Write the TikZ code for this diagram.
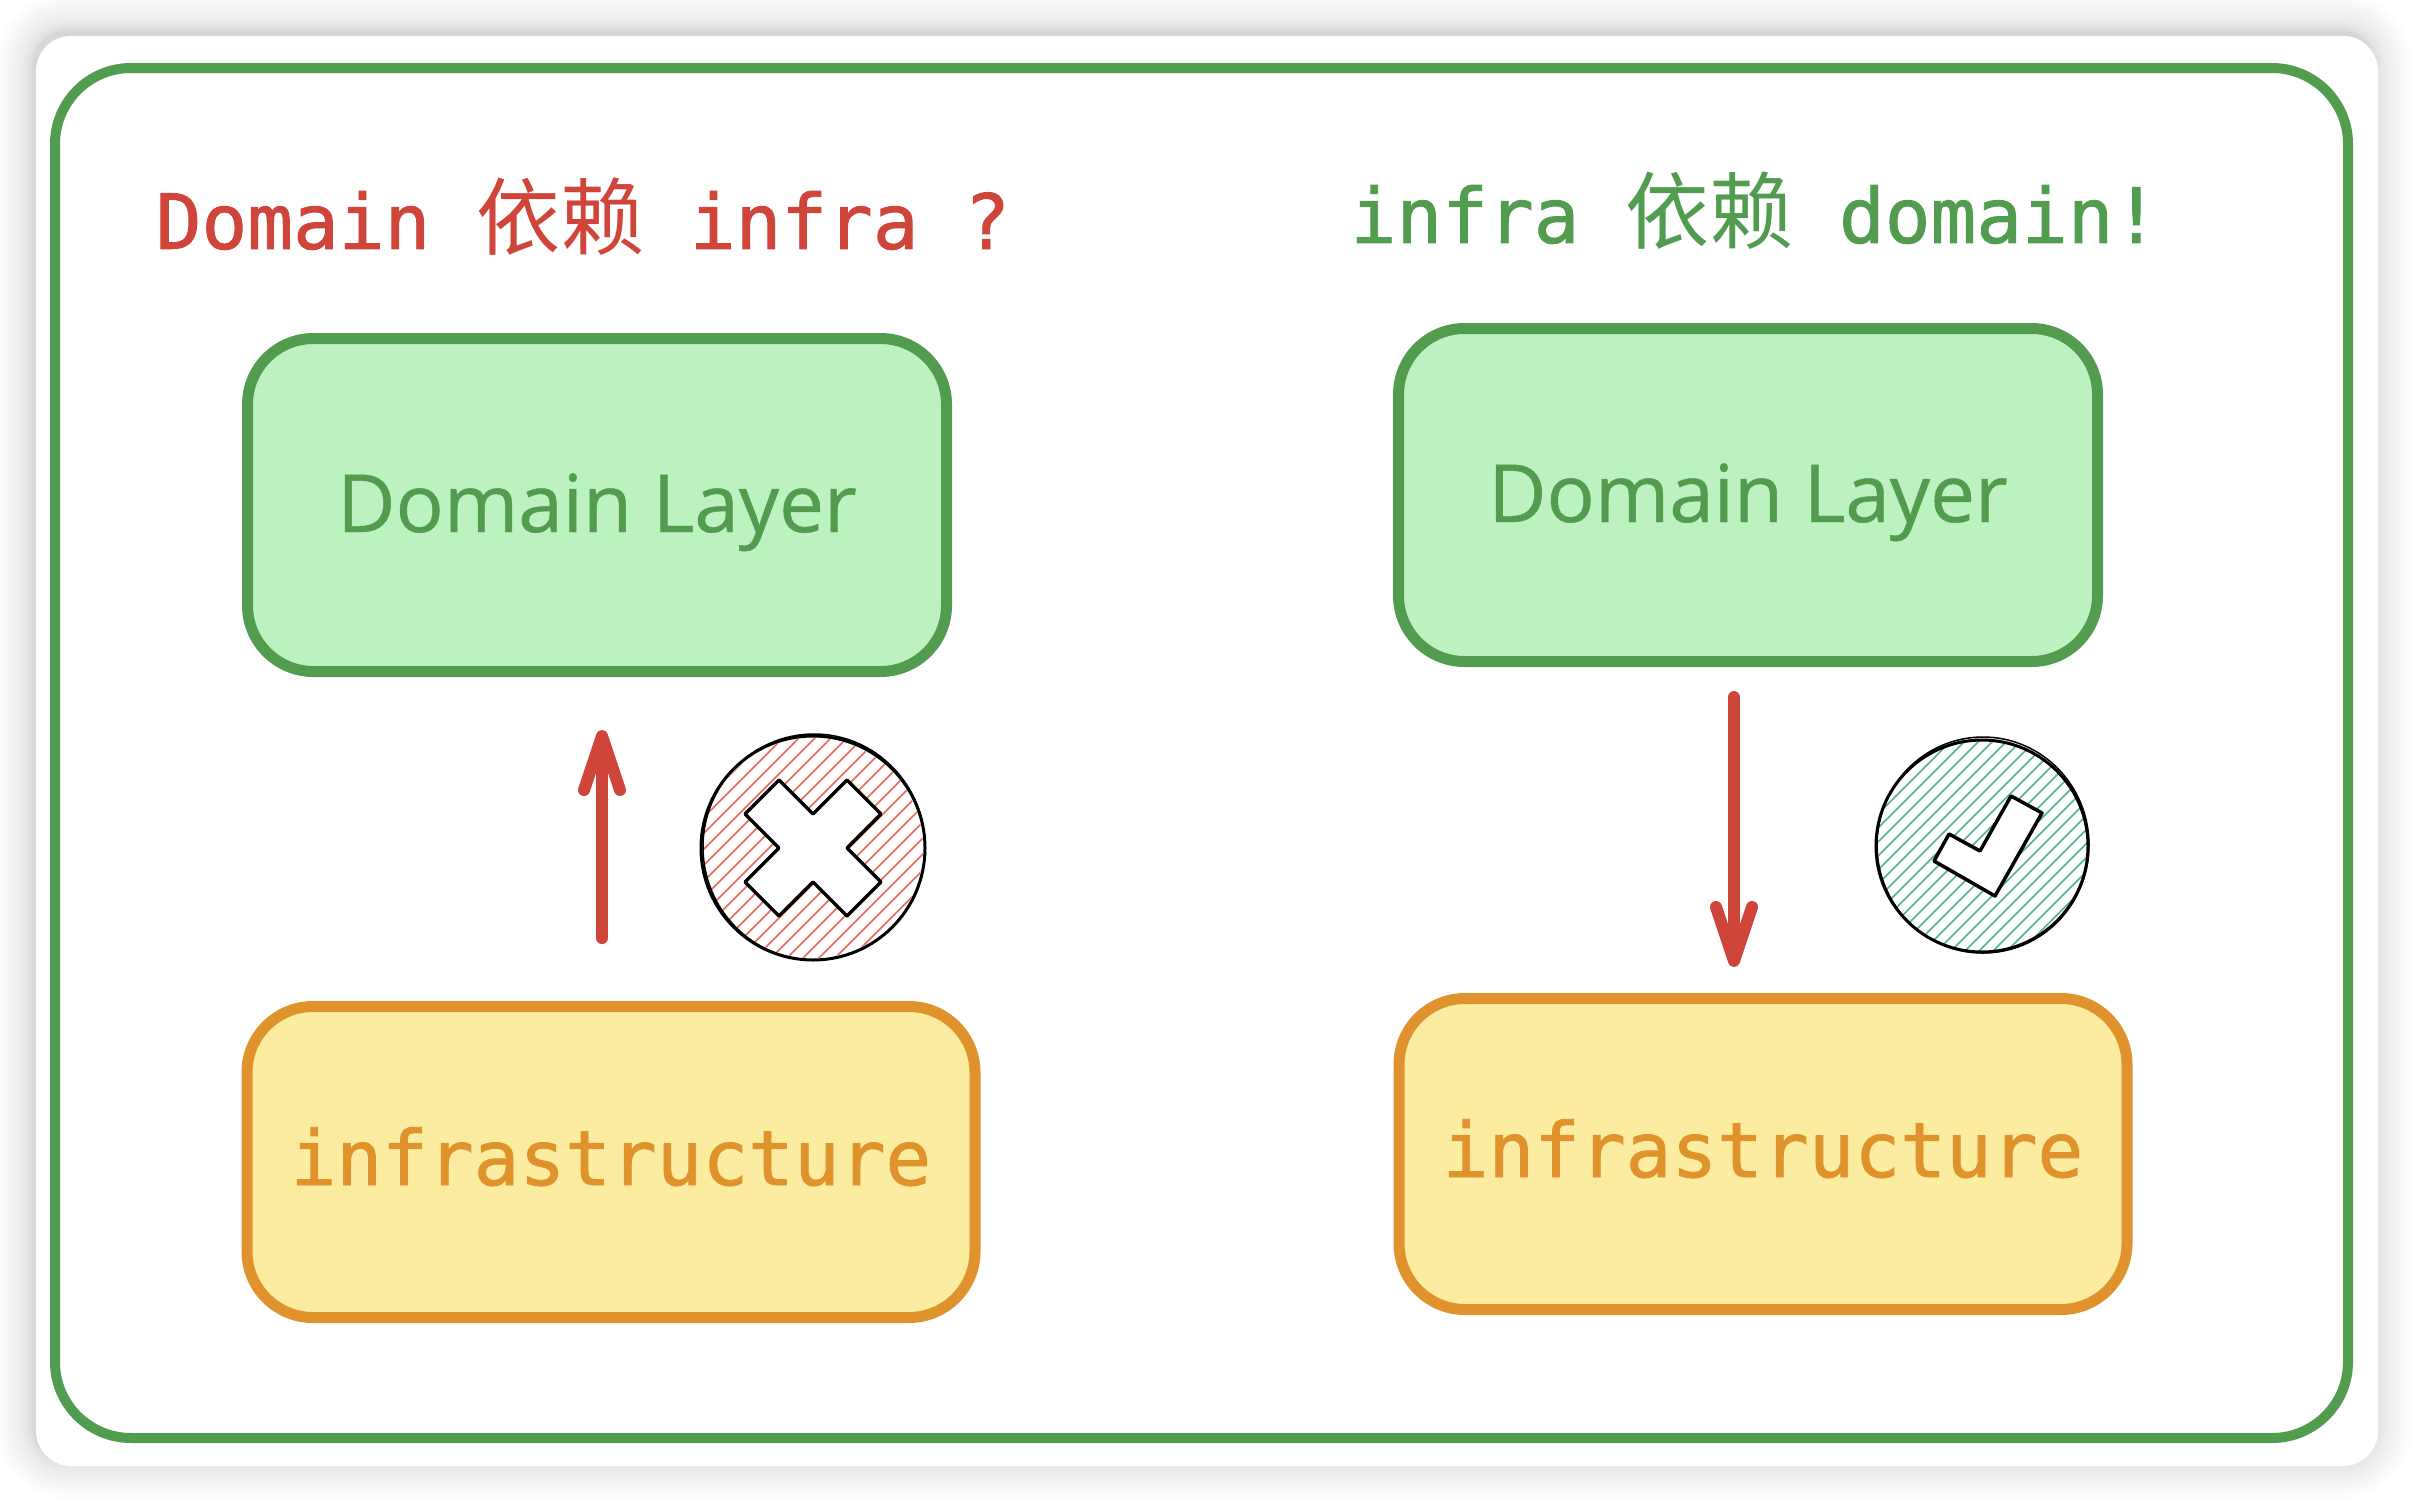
\documentclass[tikz,border=0pt]{standalone}
\usepackage{fontspec}
\setmainfont{Open Sans}[FakeBold=0.6]
\newfontfamily\codefont{DejaVu Sans Mono}[FakeBold=1.2]
\newfontfamily\cjk{Noto Sans CJK SC}
\usetikzlibrary{arrows.meta}
\definecolor{sketchgreen}{HTML}{529C50}
\definecolor{sketchred}{HTML}{CF453A}
\definecolor{sketchorange}{HTML}{E0922D}
\definecolor{domainfill}{HTML}{BCF2BF}
\definecolor{infrafill}{HTML}{FBECA0}
\definecolor{hatchred}{HTML}{E8685A}
\definecolor{hatchgreen}{HTML}{4FB38C}
\newcommand{\cjkword}[1]{{\cjk\fontsize{84}{90}\selectfont #1}}
\newcommand{\boxlabel}[2]{\raisebox{-#1pt}[0pt][0pt]{#2}}
\tikzset{
  layerbox/.style={draw,line width=11pt,rounded corners=66pt,inner sep=0pt},
  domainbox/.style={layerbox,draw=sketchgreen,fill=domainfill,text=sketchgreen,
    minimum width=699pt,minimum height=333pt,
    font=\fontsize{80}{90}\selectfont},
  infrabox/.style={layerbox,draw=sketchorange,fill=infrafill,text=sketchorange,
    minimum width=728pt,minimum height=311pt,
    font=\codefont\fontsize{76}{90}\selectfont},
  titletext/.style={font=\codefont\fontsize{76}{90}\selectfont,inner sep=0pt},
  markcircle/.style={draw=black,line width=3pt,circle,inner sep=0pt},
  markshape/.style={draw=black,fill=white,line width=3.5pt,line join=round},
  depends/.style={draw=sketchred,line width=12pt,line cap=round,
    -{Straight Barb[length=54pt,width=36pt,round]}},
}
\begin{document}
\begin{tikzpicture}[x=1pt,y=-1pt]
  \useasboundingbox (0,0) rectangle (2414,1502);
  % soft shadow of the card
  \foreach \i in {1,2,...,20}{
    \pgfmathsetmacro{\s}{38*(\i/20)^2}
    \fill[black,opacity=0.008,rounded corners=34pt+\s pt] (33-\s,31-\s) rectangle (2375+\s,1461+\s);
  }
  \node[fill=white,rounded corners=35pt,minimum width=2342pt,minimum height=1430pt,inner sep=0pt] (card) at (1207,751) {};
  \node[draw=sketchgreen,line width=10pt,rounded corners=76pt,minimum width=2293pt,minimum height=1370pt,inner sep=0pt] (frame) at (1201.5,753) {};
  
  \node[titletext,text=sketchred] (titleL) at (583,217) {Domain \cjkword{依赖} infra ?};
  \node[titletext,text=sketchgreen] (titleR) at (1755,211) {infra \cjkword{依赖} domain!};
  
  \node[domainbox] (domainL) at (597,505) {\boxlabel{27}{Domain Layer}};
  \node[domainbox] (domainR) at (1748,495) {\boxlabel{27}{Domain Layer}};
  \node[infrabox] (infraL) at (611,1162) {\boxlabel{23}{infrastructure}};
  \node[infrabox] (infraR) at (1763,1154) {\boxlabel{23}{infrastructure}};
  
  \coordinate (arrowL) at (602,0);
  \coordinate (arrowR) at (1734,0);
  \path[depends,shorten <=63pt,shorten >=53pt] (infraL.north -| arrowL) -- (domainL.south -| arrowL);
  \path[depends,shorten <=30pt,shorten >=26pt] (domainR.south -| arrowR) -- (infraR.north -| arrowR);
  
  % wrong direction mark
  \begin{scope}[shift={(813,848)}]
    \clip (0,0) circle (110);
    \foreach \k in {-220,-204,...,220}
    \draw[hatchred,line width=1.5pt] (\k-130,130)--(\k+130,-130);
  \end{scope}
  \node[markcircle,minimum size=224pt] (wrongmark) at (813,848) {};
  \draw[black,line width=1.5pt] (814,847) ellipse (111 and 113);
  \draw[markshape] (813,848) ++(0,-34)--++(34,-34)--++(34,34)--++(-34,34)--++(34,34)--++(-34,34)--++(-34,-34)--++(-34,34)--++(-34,-34)--++(34,-34)--++(-34,-34)--++(34,-34)--cycle;
  
  % right direction mark
  \begin{scope}[shift={(1982,846)}]
    \clip (0,0) circle (105);
    \foreach \k in {-220,-206,...,220}
    \draw[hatchgreen,line width=1.5pt] (\k-130,130)--(\k+130,-130);
  \end{scope}
  \node[markcircle,minimum size=212pt] (rightmark) at (1982,846) {};
  \draw[black,line width=1.5pt] (1983,845) ellipse (106 and 108);
  \draw[markshape] (2011,796)--(2042,813)--(1995,896)--(1934,861)--(1949,834)--(1980,851)--cycle;
\end{tikzpicture}
\end{document}
